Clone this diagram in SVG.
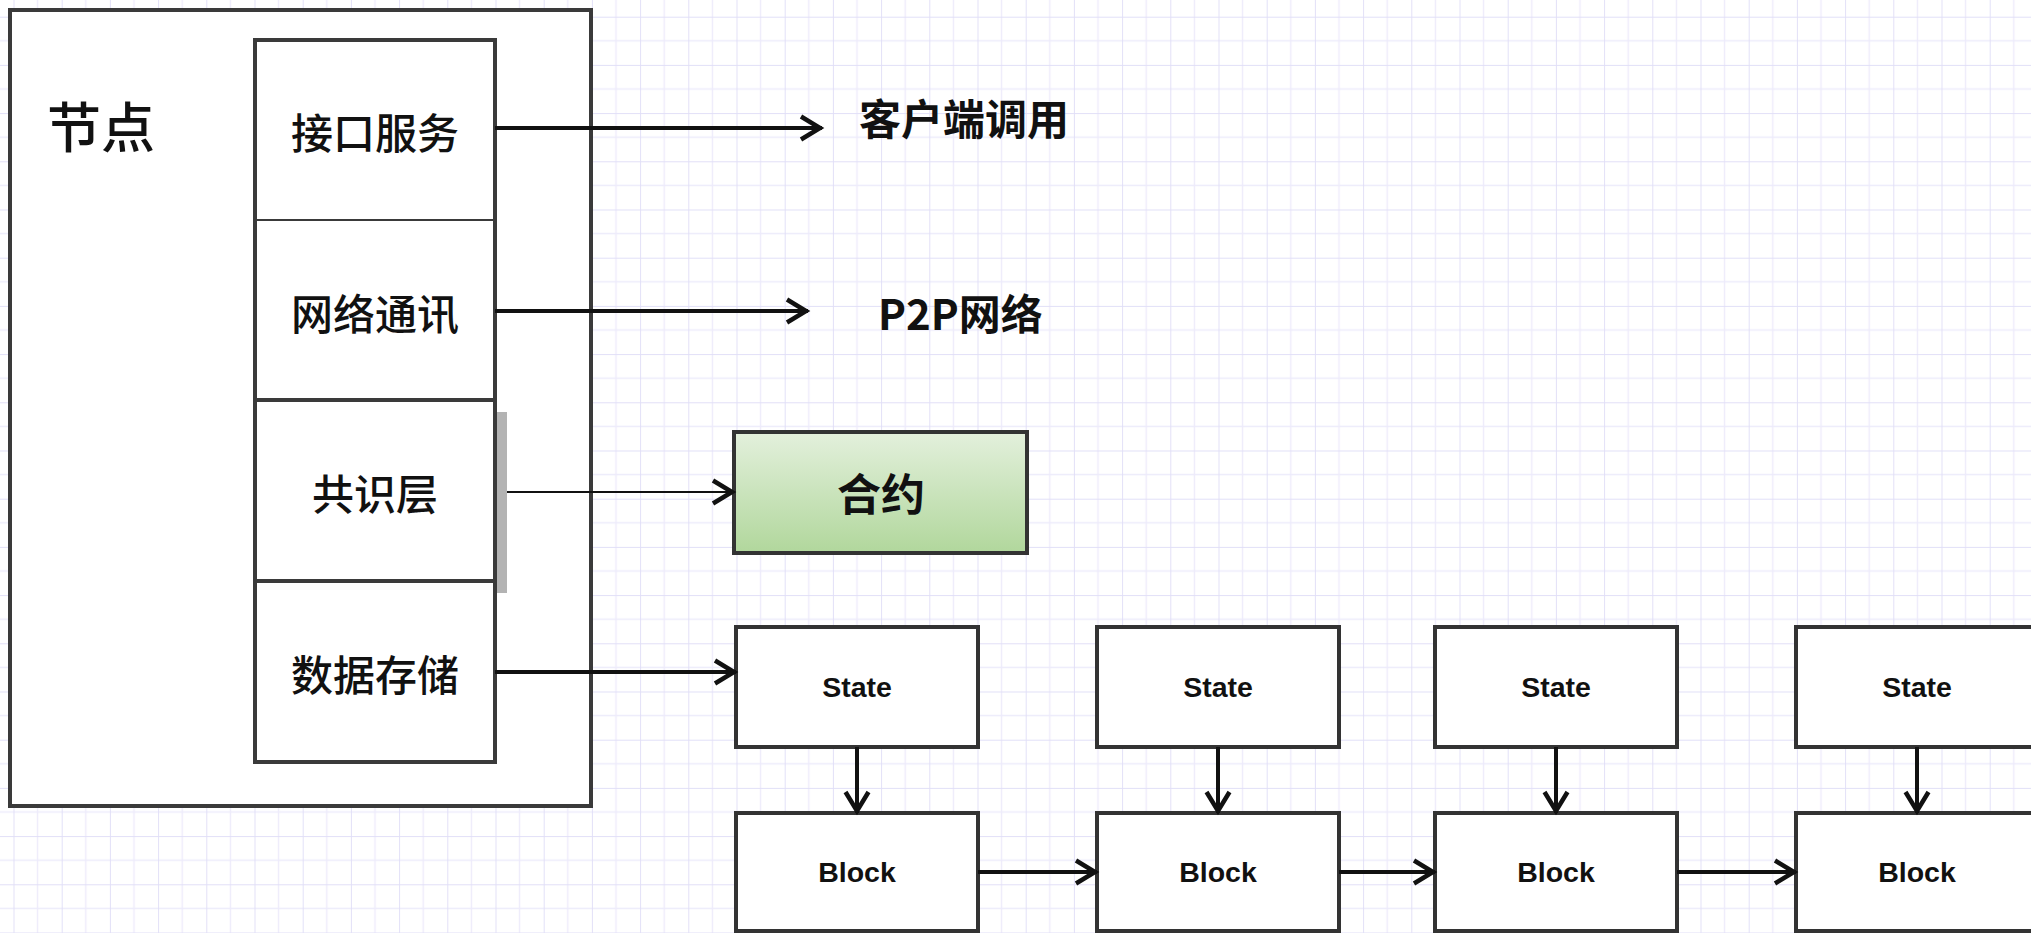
<svg xmlns="http://www.w3.org/2000/svg" width="2031" height="933" viewBox="0 0 2031 933">
<style>
.frame{fill:#fff;stroke:#3a3a3a;stroke-width:4}
.box{fill:#fff;stroke:#333;stroke-width:4}
.cn{font-family:"Noto Sans CJK SC","Liberation Sans",sans-serif;fill:#111;dominant-baseline:central}
.lyr{font-size:42px;font-weight:500;text-anchor:middle}
.en{font-family:"Liberation Sans",Arial,sans-serif;font-weight:bold;font-size:28.5px;fill:#111;text-anchor:middle;dominant-baseline:central}
.conn{fill:none;stroke:#111;stroke-width:4}
.thin{stroke-width:2}
</style>
<defs>
<pattern id="grid" patternUnits="userSpaceOnUse" x="13.5" y="16.7" width="48.2" height="48.2">
<rect width="48.2" height="48.2" fill="#fff"/>
<path d="M24.1,0 V48.2 M0,24.1 H48.2" stroke="#edebfb" stroke-width="1.3" fill="none"/>
<path d="M0,0 V48.2 M0,0 H48.2" stroke="#e1dff7" stroke-width="1.9" fill="none"/>
</pattern>
<linearGradient id="green" x1="0" y1="0" x2="0" y2="1">
<stop offset="0" stop-color="#e3f0dc"/>
<stop offset="1" stop-color="#b1d79c"/>
</linearGradient>
<marker id="arr" markerUnits="userSpaceOnUse" markerWidth="30" markerHeight="30" viewBox="0 0 30 30" refX="26" refY="15" orient="auto">
<path d="M5,3.5 L24,15 L5,26.5" fill="none" stroke="#111" stroke-width="4.5"/>
</marker>
</defs>
<rect width="2031" height="933" fill="url(#grid)"/>

<g id="node">
<rect class="frame" x="10" y="10" width="581" height="796"/>
<text class="cn" x="101" y="124" font-size="54" font-weight="500" text-anchor="middle">节点</text>
</g>

<g id="layer-column">
<rect class="frame" x="255" y="40" width="240" height="722"/>
<line x1="255" y1="220" x2="495" y2="220" stroke="#3a3a3a" stroke-width="2"/>
<line x1="255" y1="400" x2="495" y2="400" stroke="#3a3a3a" stroke-width="4"/>
<line x1="255" y1="581" x2="495" y2="581" stroke="#3a3a3a" stroke-width="4"/>
<rect x="497" y="412" width="10" height="181" fill="#b3b3b3"/>
</g>
<g id="layer-api"><text class="cn lyr" x="375" y="130">接口服务</text></g>
<g id="layer-net"><text class="cn lyr" x="375" y="311">网络通讯</text></g>
<g id="layer-consensus"><text class="cn lyr" x="375" y="491">共识层</text></g>
<g id="layer-storage"><text class="cn lyr" x="375" y="672">数据存储</text></g>

<g id="client"><text class="cn" x="859" y="116" font-size="42" font-weight="bold">客户端调用</text></g>
<g id="p2p"><text class="cn" x="878" y="311" font-size="42" font-weight="bold">P2P网络</text></g>

<g id="contract">
<rect x="734" y="432" width="293" height="121" fill="url(#green)" stroke="#333" stroke-width="4"/>
<text class="cn" x="881" y="492" font-size="44" font-weight="bold" text-anchor="middle">合约</text>
</g>

<g id="state1"><rect class="box" x="736" y="627" width="242" height="120"/><text class="en" x="857" y="687">State</text></g>
<g id="state2"><rect class="box" x="1097" y="627" width="242" height="120"/><text class="en" x="1218" y="687">State</text></g>
<g id="state3"><rect class="box" x="1435" y="627" width="242" height="120"/><text class="en" x="1556" y="687">State</text></g>
<g id="state4"><rect class="box" x="1796" y="627" width="242" height="120"/><text class="en" x="1917" y="687">State</text></g>

<g id="block1"><rect class="box" x="736" y="813" width="242" height="118"/><text class="en" x="857" y="872">Block</text></g>
<g id="block2"><rect class="box" x="1097" y="813" width="242" height="118"/><text class="en" x="1218" y="872">Block</text></g>
<g id="block3"><rect class="box" x="1435" y="813" width="242" height="118"/><text class="en" x="1556" y="872">Block</text></g>
<g id="block4"><rect class="box" x="1796" y="813" width="242" height="118"/><text class="en" x="1917" y="872">Block</text></g>

<g id="connectors">
<path class="conn" d="M495,128 H822" marker-end="url(#arr)"/>
<path class="conn" d="M495,311 H808" marker-end="url(#arr)"/>
<path class="conn thin" d="M507,492 H734" marker-end="url(#arr)"/>
<path class="conn" d="M495,672 H736" marker-end="url(#arr)"/>
<path class="conn" d="M857,747 V813" marker-end="url(#arr)"/>
<path class="conn" d="M1218,747 V813" marker-end="url(#arr)"/>
<path class="conn" d="M1556,747 V813" marker-end="url(#arr)"/>
<path class="conn" d="M1917,747 V813" marker-end="url(#arr)"/>
<path class="conn" d="M978,872 H1097" marker-end="url(#arr)"/>
<path class="conn" d="M1339,872 H1435" marker-end="url(#arr)"/>
<path class="conn" d="M1677,872 H1796" marker-end="url(#arr)"/>
</g>
</svg>
